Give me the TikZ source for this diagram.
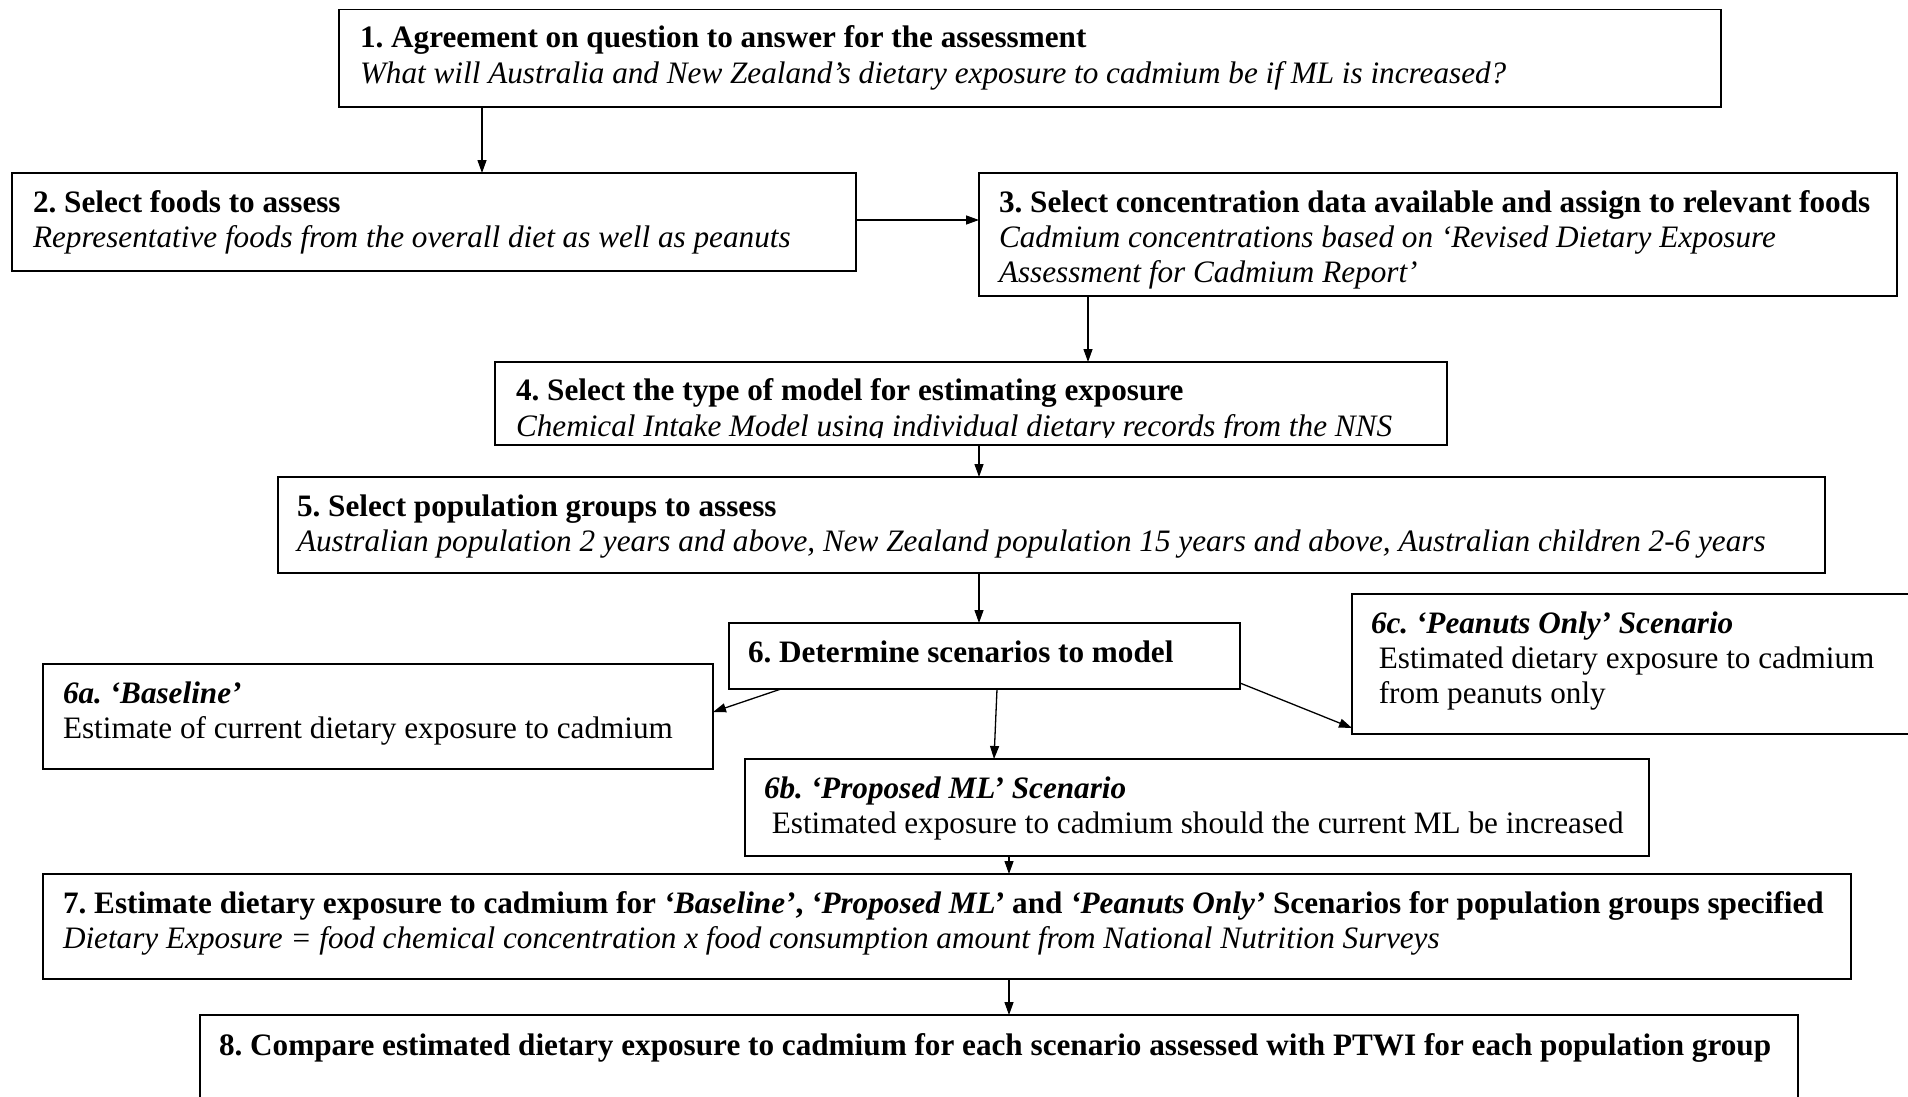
\documentclass[tikz,border=0pt]{standalone}
\usepackage{fontspec}
\setmainfont{Liberation Serif}
\usetikzlibrary{arrows.meta}
\frenchspacing
\newcommand\fsz{\fontsize{31.2}{35}\selectfont}
\tikzset{
  box/.style={draw, line width=1.5pt, inner sep=0pt, outer sep=0pt, anchor=north west},
  txt/.style={anchor=base west, inner sep=0pt, outer sep=0pt, font=\fsz},
  arr/.style={line width=1.3pt, -{Triangle[length=13pt,width=9pt]}}
}
\begin{document}
\begin{tikzpicture}[x=1pt,y=-1pt]
\path[use as bounding box, clip] (0,0) rectangle (1908,1097);
\fill[white] (0,0) rectangle (1908,1097);

% boxes
\node[box, minimum width=1382pt, minimum height=97.5pt] (b1) at (339,9.5) {};
\node[box, minimum width=844pt, minimum height=98pt] (b2) at (12,173) {};
\node[box, minimum width=918pt, minimum height=123pt] (b3) at (979,173) {};
\node[box, minimum width=952pt, minimum height=83pt] (b4) at (495,362) {};
\node[box, minimum width=1547pt, minimum height=96pt] (b5) at (278,477) {};
\node[box, minimum width=511pt, minimum height=66pt] (b6) at (729,623) {};
\node[box, minimum width=670pt, minimum height=105pt] (b6a) at (43,664) {};
\node[box, minimum width=580pt, minimum height=140pt] (b6c) at (1352,594) {};
\node[box, minimum width=904pt, minimum height=97pt] (b6b) at (745,759) {};
\node[box, minimum width=1808pt, minimum height=105pt] (b7) at (43,874) {};
\node[box, minimum width=1598pt, minimum height=120pt] (b8) at (200,1015) {};

% texts
\node[txt] (t1a) at (360,48) {\textbf{1. Agreement on question to answer for the assessment}};
\node[txt] (t1b) at (360,84) {\textit{What will Australia and New Zealand's dietary exposure to cadmium be if ML is increased?}};

\node[txt] (t2a) at (33,212) {\textbf{2. Select foods to assess}};
\node[txt] (t2b) at (33,247) {\textit{Representative foods from the overall diet as well as peanuts}};

\node[txt] (t3a) at (999,212) {\textbf{3. Select concentration data available and assign to relevant foods}};
\node[txt] (t3b) at (999,247) {\textit{Cadmium concentrations based on `Revised Dietary Exposure}};
\node[txt] (t3c) at (999,282) {\textit{Assessment for Cadmium Report'}};

\node[txt] (t4a) at (516,400) {\textbf{4. Select the type of model for estimating exposure}};
\begin{scope}
\clip (495,362) rectangle (1447,437.5);
\node[txt] (t4b) at (516,436) {\textit{Chemical Intake Model using individual dietary records from the NNS}};
\end{scope}

\node[txt] (t5a) at (297,516) {\textbf{5. Select population groups to assess}};
\node[txt] (t5b) at (297,551) {\textit{Australian population 2 years and above, New Zealand population 15 years and above, Australian children 2-6 years}};

\node[txt] (t6) at (748,662) {\textbf{6. Determine scenarios to model}};

\node[txt] (t6aa) at (63,703) {\textbf{\textit{6a. `Baseline'}}};
\node[txt] (t6ab) at (63,738) {Estimate of current dietary exposure to cadmium};

\node[txt] (t6ca) at (1371,633) {\textbf{\textit{6c. `Peanuts Only' Scenario}}};
\node[txt] (t6cb) at (1371,668) {\hspace*{0.25em}Estimated dietary exposure to cadmium};
\node[txt] (t6cc) at (1371,703) {\hspace*{0.25em}from peanuts only};

\node[txt] (t6ba) at (764,798) {\textbf{\textit{6b. `Proposed ML' Scenario}}};
\node[txt] (t6bb) at (764,833) {\hspace*{0.25em}Estimated exposure to cadmium should the current ML be increased};

\node[txt] (t7a) at (63,913) {\textbf{7. Estimate dietary exposure to cadmium for \textit{`Baseline'}, \textit{`Proposed ML'} and \textit{`Peanuts Only'} Scenarios for population groups specified}};
\node[txt] (t7b) at (63,948) {\textit{Dietary Exposure = food chemical concentration x food consumption amount from National Nutrition Surveys}};

\node[txt] (t8) at (219,1055) {\textbf{8. Compare estimated dietary exposure to cadmium for each scenario assessed with PTWI for each population group}};

% connectors
\draw[arr] ([xshift=143pt]b1.south west) -- ([xshift=470pt]b2.north west);
\draw[arr] ([yshift=-47pt]b2.north east) -- ([yshift=-47pt]b3.north west);
\draw[arr] ([xshift=109pt]b3.south west) -- ([xshift=593pt]b4.north west);
\draw[arr] ([xshift=484pt]b4.south west) -- ([xshift=701pt]b5.north west);
\draw[arr] ([xshift=701pt]b5.south west) -- ([xshift=250pt]b6.north west);
\draw[arr] ([xshift=52pt]b6.south west) -- ([yshift=-48pt]b6a.north east);
\draw[arr] ([yshift=6pt]b6.south east) -- ([yshift=6pt]b6c.south west);
\draw[arr] ([xshift=268pt]b6.south west) -- ([xshift=249pt]b6b.north west);
\draw[arr] ([xshift=264pt]b6b.south west) -- ([xshift=966pt]b7.north west);
\draw[arr] ([xshift=966pt]b7.south west) -- ([xshift=809pt]b8.north west);
\end{tikzpicture}
\end{document}
